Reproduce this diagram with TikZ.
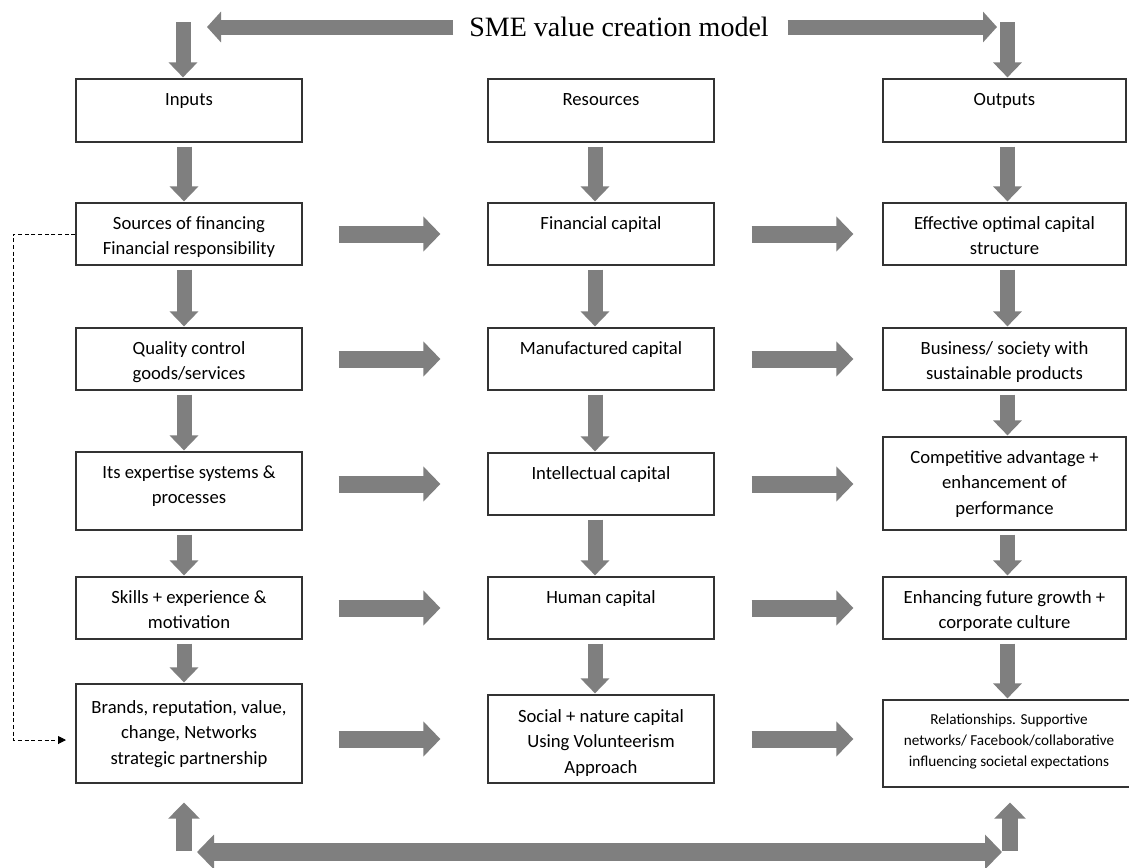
\documentclass[tikz,border=0pt]{standalone}
\usepackage{fontspec}
\setmainfont{Carlito}
\newfontfamily\titlefont{Liberation Serif}
\usetikzlibrary{arrows.meta}
\newdimen\pxu \pxu=0.75pt
\definecolor{arrowgray}{RGB}{127,127,127}
% box text: [first-line height]{box height}{box width}{lines}, all in px
\newcommand{\boxtxt}[4][26]{\parbox[c][#2\pxu][t]{#3\pxu}{\centering\fontsize{14pt}{19.3pt}\selectfont\rule{0pt}{#1\pxu}#4\par}}
\begin{document}
\begin{tikzpicture}[x=0.75pt,y=-0.75pt,
  box/.style={draw=black!80,line width=0.9pt,inner sep=0pt,fill=white},
  varrow/.style={draw=arrowgray,line width=11.25pt,-{Triangle[length=11.25pt,width=21pt]},shorten <=3pt,shorten >=0.75pt},
  harrow/.style={draw=arrowgray,line width=12.75pt,-{Triangle[length=12.75pt,width=25.5pt]}},
  toparrow/.style={draw=arrowgray,line width=11.25pt,-{Triangle[length=10.5pt,width=22.5pt]}},
  uparrow/.style={draw=arrowgray,line width=12pt,-{Triangle[length=12pt,width=23pt]}},
  dblarrow/.style={draw=arrowgray,line width=13.5pt,{Triangle[length=12.75pt,width=25.5pt]}-{Triangle[length=12.75pt,width=25.5pt]}},
  dashlink/.style={draw=black,line width=0.75pt,dash pattern=on 3pt off 2pt,-{Triangle[length=6pt,width=6pt]}}
]
\fill[white] (0,0) rectangle (1129,868);
\useasboundingbox (0,0) rectangle (1129,868);

% title
\node[inner sep=0pt,font=\titlefont\fontsize{21pt}{25pt}\selectfont] (title) at (619,27) {SME value creation model};

% inputs column
\node[box] (i0) at (189,110.5) {\boxtxt{63}{226}{Inputs}};
\node[box] (i1) at (189,234) {\boxtxt{62}{226}{Sources of financing\\Financial responsibility}};
\node[box] (i2) at (189,359) {\boxtxt{62}{226}{Quality control\\goods/services}};
\node[box] (i3) at (189,491) {\boxtxt{78}{226}{Its expertise systems \&\\processes}};
\node[box] (i4) at (189,608) {\boxtxt{62}{226}{Skills + experience \&\\motivation}};
\node[box] (i5) at (189,733.5) {\boxtxt[29]{99}{226}{Brands, reputation, value,\\change, Networks\\strategic partnership}};

% resources column
\node[box] (r0) at (601,110.5) {\boxtxt{63}{226}{Resources}};
\node[box] (r1) at (601,234) {\boxtxt{62}{226}{Financial capital}};
\node[box] (r2) at (601,359) {\boxtxt{62}{226}{Manufactured capital}};
\node[box] (r3) at (601,484) {\boxtxt{62}{226}{Intellectual capital}};
\node[box] (r4) at (601,608) {\boxtxt{62}{226}{Human capital}};
\node[box] (r5) at (601,739) {\boxtxt[27]{88}{226}{Social + nature capital\\Using Volunteerism\\Approach}};

% outputs column
\node[box] (o0) at (1004.5,110.5) {\boxtxt{63}{243}{Outputs}};
\node[box] (o1) at (1004.5,234) {\boxtxt{62}{243}{Effective optimal capital\\structure}};
\node[box] (o2) at (1004.5,359) {\boxtxt{62}{243}{Business/ society with\\sustainable products}};
\node[box] (o3) at (1004.5,483.5) {\boxtxt{93}{243}{Competitive advantage +\\enhancement of\\performance}};
\node[box] (o4) at (1004.5,608) {\boxtxt{62}{243}{Enhancing future growth +\\corporate culture}};
\node[box] (o5) at (1009,743.5) {\boxtxt[24]{87}{252}{\fontsize{11.4pt}{15.8pt}\selectfont Relationships. Supportive\\networks/ Facebook/collaborative\\influencing societal expectations}};

% arrows from the title
\coordinate (ttl) at (207,27);
\coordinate (ttr) at (997,27);
\draw[toparrow,shorten <=12pt] (title.west) -- (ttl);
\draw[toparrow,shorten <=14pt] (title.east) -- (ttr);
\coordinate (tdl) at (183,22);
\coordinate (tdr) at (1007.5,22);
\draw[varrow,shorten <=0pt] (tdl) -- (tdl |- i0.north);
\draw[varrow,shorten <=0pt] (tdr) -- (tdr |- o0.north);

% vertical flow, inputs
\draw[varrow] ([xshift=-3.75pt]i0.south) -- ([xshift=-3.75pt]i1.north);
\draw[varrow] ([xshift=-3.75pt]i1.south) -- ([xshift=-3.75pt]i2.north);
\draw[varrow] ([xshift=-3.75pt]i2.south) -- ([xshift=-3.75pt]i3.north);
\draw[varrow] ([xshift=-3.75pt]i3.south) -- ([xshift=-3.75pt]i4.north);
\draw[varrow] ([xshift=-3.75pt]i4.south) -- ([xshift=-3.75pt]i5.north);
% vertical flow, resources
\draw[varrow] ([xshift=-4.5pt]r0.south) -- ([xshift=-4.5pt]r1.north);
\draw[varrow] ([xshift=-4.5pt]r1.south) -- ([xshift=-4.5pt]r2.north);
\draw[varrow] ([xshift=-4.5pt]r2.south) -- ([xshift=-4.5pt]r3.north);
\draw[varrow] ([xshift=-4.5pt]r3.south) -- ([xshift=-4.5pt]r4.north);
\draw[varrow] ([xshift=-4.5pt]r4.south) -- ([xshift=-4.5pt]r5.north);
% vertical flow, outputs
\draw[varrow] ([xshift=2.25pt]o0.south) -- ([xshift=2.25pt]o1.north);
\draw[varrow] ([xshift=2.25pt]o1.south) -- ([xshift=2.25pt]o2.north);
\draw[varrow] ([xshift=2.25pt]o2.south) -- ([xshift=2.25pt]o3.north);
\draw[varrow] ([xshift=2.25pt]o3.south) -- ([xshift=2.25pt]o4.north);
\draw[varrow] ([xshift=2.25pt]o4.south) -- ([xshift=-1.125pt]o5.north);

% horizontal flow between columns
\draw[harrow,shorten <=27pt,shorten >=35.25pt] (i1.east) -- (r1.west);
\draw[harrow,shorten <=27pt,shorten >=35.25pt] (i2.east) -- (r2.west);
\draw[harrow,shorten <=27pt,shorten >=35.25pt] (i3.east |- r3.west) -- (r3.west);
\draw[harrow,shorten <=27pt,shorten >=35.25pt] (i4.east) -- (r4.west);
\draw[harrow,shorten <=27pt,shorten >=35.25pt] (i5.east |- r5.west) -- (r5.west);
\draw[harrow,shorten <=27.75pt,shorten >=21.75pt] (r1.east) -- (o1.west);
\draw[harrow,shorten <=27.75pt,shorten >=21.75pt] (r2.east) -- (o2.west);
\draw[harrow,shorten <=27.75pt,shorten >=21.75pt] (r3.east) -- (o3.west |- r3.east);
\draw[harrow,shorten <=27.75pt,shorten >=21.75pt] (r4.east) -- (o4.west);
\draw[harrow,shorten <=27.75pt,shorten >=21.75pt] (r5.east) -- (o5.west |- r5.east);

% feedback along the bottom
\coordinate (bl) at (184,851);
\coordinate (br) at (1010,851);
\draw[uparrow,shorten >=14.25pt] (bl) -- (bl |- i5.south);
\draw[uparrow,shorten >=11.25pt] (br) -- (br |- o5.south);
\coordinate (bhl) at (197,852);
\coordinate (bhr) at (1002,852);
\draw[dblarrow] (bhl) -- (bhr);

% dashed link from financing to brands
\coordinate (dc) at (13,740);
\coordinate (de) at (66,740);
\draw[dashlink] (i1.west) -| (dc) -- (de);
\end{tikzpicture}
\end{document}
